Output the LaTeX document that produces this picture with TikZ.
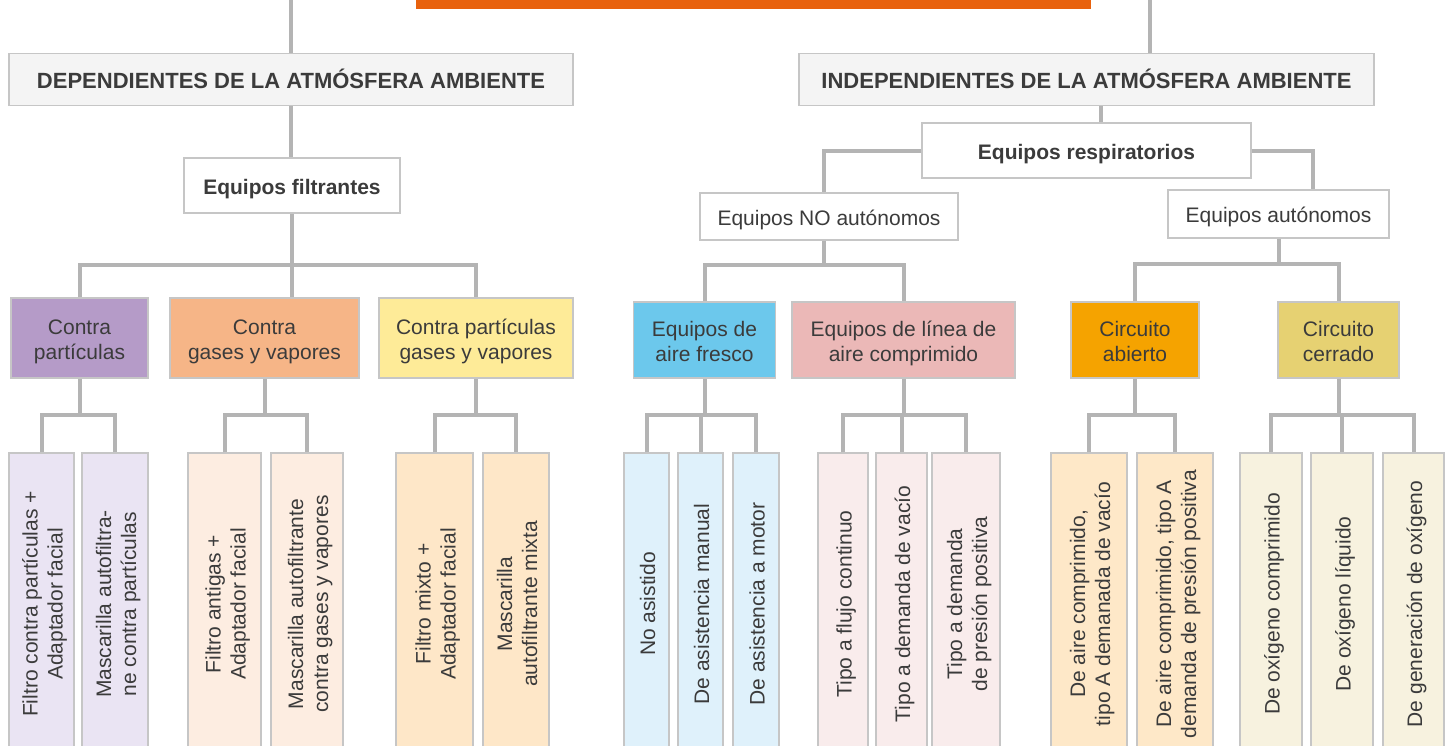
\documentclass[tikz,border=0pt]{standalone}
\usepackage{fontspec}
\setmainfont{Liberation Sans}
\definecolor{txtgray}{HTML}{3B3B3B}
\definecolor{linegray}{HTML}{B4B4B4}
\definecolor{boxline}{HTML}{C6C6C6}
\definecolor{headfill}{HTML}{F4F4F4}
\definecolor{orng}{HTML}{E8620E}
\definecolor{purp}{HTML}{B59BC8}
\definecolor{salmon}{HTML}{F6B587}
\definecolor{yell}{HTML}{FEEB98}
\definecolor{skyb}{HTML}{6CC8EC}
\definecolor{rose}{HTML}{EBB8B7}
\definecolor{amber}{HTML}{F5A300}
\definecolor{gold}{HTML}{E6D172}
\definecolor{lpurp}{HTML}{EAE4F3}
\definecolor{lsalmon}{HTML}{FDEDE1}
\definecolor{lyell}{HTML}{FEE7C8}
\definecolor{lskyb}{HTML}{DFF1FB}
\definecolor{lrose}{HTML}{F9ECEC}
\definecolor{lamber}{HTML}{FEE8C8}
\definecolor{lgold}{HTML}{F7F2DF}
\begin{document}
\begin{tikzpicture}[x=1pt, y=1pt,
	box/.style={rectangle, draw=boxline, line width=1.5pt, text=txtgray, align=center, inner sep=0pt, font=\fontsize{21}{25}\selectfont,
		text height=22pt, text depth=5pt},
	two lines/.style={text height=47pt},
	head node/.style={box, fill=headfill, font=\bfseries\fontsize{22}{26}\selectfont},
	bold node/.style={box, fill=white, font=\bfseries\fontsize{21}{25}\selectfont},
	leaf node/.style={box, rotate=90, minimum width=302pt},
	conn/.style={draw=linegray, line width=4pt}]
	\useasboundingbox (0,0) rectangle (1453,-745);
	\fill[orng] (416,-9) rectangle (1091,5);
	\coordinate (topL) at (291,5);
	\coordinate (topR) at (1149.5,5);
	
	% left branch
	\node[head node, minimum width=564pt, minimum height=52pt] (dep) at (291,-79.5) {DEPENDIENTES DE LA ATMÓSFERA AMBIENTE};
	\node[bold node, minimum width=216pt, minimum height=55pt] (filt) at (292,-185.5) {Equipos filtrantes};
	\node[box, two lines, fill=purp, minimum width=137pt, minimum height=80pt] (cpart) at (79.5,-338) {Contra\\partículas};
	\node[box, two lines, fill=salmon, minimum width=189pt, minimum height=80pt] (cgas) at (264.5,-338) {Contra\\gases y vapores};
	\node[box, two lines, fill=yell, minimum width=194pt, minimum height=80pt] (cmix) at (476,-338) {Contra partículas\\gases y vapores};
	
	\node[leaf node, two lines, fill=lpurp, minimum height=65pt] (fpart) at (41.5,-604) {Filtro contra partículas +\\Adaptador facial};
	\node[leaf node, two lines, fill=lpurp, minimum height=66pt] (mpart) at (115,-604) {Mascarilla autofiltra-\\ne contra partículas};
	\node[leaf node, two lines, fill=lsalmon, minimum height=73pt] (fgas) at (224.5,-604) {Filtro antigas +\\Adaptador facial};
	\node[leaf node, two lines, fill=lsalmon, minimum height=72pt] (mgas) at (307,-604) {Mascarilla autofiltrante\\contra gases y vapores};
	\node[leaf node, two lines, fill=lyell, minimum height=77pt] (fmix) at (434.5,-604) {Filtro mixto +\\Adaptador facial};
	\node[leaf node, two lines, fill=lyell, minimum height=66pt] (mmix) at (516,-604) {Mascarilla\\autofiltrante mixta};
	
	% right branch
	\node[head node, minimum width=575pt, minimum height=52pt] (ind) at (1086.5,-79.5) {INDEPENDIENTES DE LA ATMÓSFERA AMBIENTE};
	\node[bold node, minimum width=329pt, minimum height=55pt] (resp) at (1086.5,-150.5) {Equipos respiratorios};
	\node[box, fill=white, minimum width=258pt, minimum height=47pt] (noaut) at (829,-216.5) {Equipos NO autónomos};
	\node[box, fill=white, minimum width=221pt, minimum height=48pt] (aut) at (1278.5,-214) {Equipos autónomos};
	\node[box, two lines, fill=skyb, minimum width=142pt, minimum height=76pt] (fresco) at (704.5,-340) {Equipos de\\aire fresco};
	\node[box, two lines, fill=rose, minimum width=223pt, minimum height=76pt] (linea) at (903.5,-340) {Equipos de línea de\\aire comprimido};
	\node[box, two lines, fill=amber, minimum width=128pt, minimum height=76pt] (abierto) at (1135,-340) {Circuito\\abierto};
	\node[box, two lines, fill=gold, minimum width=121pt, minimum height=76pt] (cerrado) at (1338.5,-340) {Circuito\\cerrado};
	
	\node[leaf node, fill=lskyb, minimum height=45pt] (noasis) at (646.5,-604) {No asistido};
	\node[leaf node, fill=lskyb, minimum height=45pt] (manual) at (700.5,-604) {De asistencia manual};
	\node[leaf node, fill=lskyb, minimum height=46pt] (motor) at (756,-604) {De asistencia a motor};
	\node[leaf node, fill=lrose, minimum height=50pt] (flujo) at (843,-604) {Tipo a flujo continuo};
	\node[leaf node, fill=lrose, minimum height=51pt] (vacio) at (901.5,-604) {Tipo a demanda de vacío};
	\node[leaf node, two lines, fill=lrose, minimum height=68pt] (presion) at (966,-604) {Tipo a demanda\\de presión positiva};
	\node[leaf node, two lines, fill=lamber, minimum height=76pt] (acvac) at (1089,-604) {De aire comprimido,\\tipo A demanada de vacío};
	\node[leaf node, two lines, fill=lamber, minimum height=76pt] (acpres) at (1175,-604) {De aire comprimido, tipo A\\demanda de presión positiva};
	\node[leaf node, fill=lgold, minimum height=62pt] (oxcomp) at (1271,-604) {De oxígeno comprimido};
	\node[leaf node, fill=lgold, minimum height=62pt] (oxliq) at (1342,-604) {De oxígeno líquido};
	\node[leaf node, fill=lgold, minimum height=61pt] (oxgen) at (1413.5,-604) {De generación de oxígeno};
	
	% connectors
	\draw[conn] (topL) -- (dep.north);
	\draw[conn] (topR) -- (topR |- ind.north);
	\draw[conn] (dep.south) -- (dep.south |- filt.north);
	\draw[conn] (filt.south) -- (filt.south |- cgas.north);
	\draw[conn] (cpart.north) -- ++(0,32) -| (cmix.north);
	\draw[conn] (cpart.south) -- ++(0,-38);
	\draw[conn] (fpart.east) -- ++(0,37) -| (mpart.east);
	\draw[conn] (cgas.south) -- ++(0,-38);
	\draw[conn] (fgas.east) -- ++(0,37) -| (mgas.east);
	\draw[conn] (cmix.south) -- ++(0,-38);
	\draw[conn] (fmix.east) -- ++(0,37) -| (mmix.east);
	
	\draw[conn] ([xshift=14pt]ind.south) -- ([xshift=14pt]resp.north);
	\draw[conn] (resp.west) -| ([xshift=-5pt]noaut.north);
	\draw[conn] (resp.east) -| ([xshift=34.5pt]aut.north);
	\draw[conn] ([xshift=-5pt]noaut.south) -- ++(0,-26);
	\draw[conn] (fresco.north) -- ++(0,36) -| (linea.north);
	\draw[conn] (aut.south) -- ++(0,-27);
	\draw[conn] (abierto.north) -- ++(0,37) -| (cerrado.north);
	\draw[conn] (fresco.south) -- ++(0,-38);
	\draw[conn] (noasis.east) -- ++(0,37) -| (motor.east);
	\draw[conn] (manual.east) -- ++(0,37);
	\draw[conn] (linea.south) -- ++(0,-38);
	\draw[conn] (flujo.east) -- ++(0,37) -| (presion.east);
	\draw[conn] (vacio.east) -- ++(0,37);
	\draw[conn] (abierto.south) -- ++(0,-38);
	\draw[conn] (acvac.east) -- ++(0,37) -| (acpres.east);
	\draw[conn] (cerrado.south) -- ++(0,-38);
	\draw[conn] (oxcomp.east) -- ++(0,37) -| (oxgen.east);
	\draw[conn] (oxliq.east) -- ++(0,37);
\end{tikzpicture}
\end{document}
